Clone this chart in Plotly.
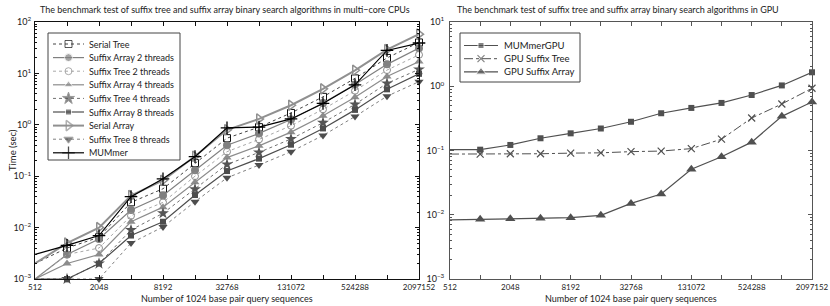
import math
import plotly.graph_objects as go

# ---------------- data ----------------
sizes = [512, 1024, 2048, 4096, 8192, 16384, 32768, 65536, 131072,
         262144, 524288, 1048576, 2097152]
x_tick_labels = ["512", "", "2048", "", "8192", "", "32768", "", "131072",
                 "", "524288", "", "2097152"]

serial_tree = [0.002, 0.004, 0.0065, 0.031, 0.057, 0.18, 0.55, 0.90, 1.70, 3.5, 8.0, 20.0, 40.0]
sa_2 = [0.001, 0.003, 0.006, 0.022, 0.042, 0.13, 0.40, 0.68, 1.27, 2.65, 6.1, 15.0, 31.0]
st_2 = [0.001, 0.003, 0.004, 0.017, 0.031, 0.10, 0.30, 0.52, 0.96, 2.0, 4.6, 11.6, 23.0]
sa_4 = [0.001, 0.002, 0.003, 0.013, 0.025, 0.076, 0.23, 0.39, 0.72, 1.5, 3.45, 8.7, 17.0]
st_4 = [0.001, 0.001, 0.002, 0.009, 0.019, 0.056, 0.17, 0.29, 0.53, 1.1, 2.5, 6.4, 12.0]
sa_8 = [0.001, 0.001, 0.002, 0.007, 0.013, 0.043, 0.126, 0.22, 0.41, 0.85, 1.95, 4.9, 9.8]
serial_array = [0.002, 0.005, 0.010, 0.042, 0.083, 0.245, 0.80, 1.30, 2.40, 5.0, 11.5, 29.0, 58.0]
st_8 = [0.001, 0.001, 0.001, 0.005, 0.0103, 0.032, 0.093, 0.165, 0.30, 0.62, 1.45, 3.6, 6.9]
mummer = [0.003, 0.0045, 0.007, 0.040, 0.089, 0.24, 0.87, 0.90, 1.30, 2.6, 6.0, 28.0, 39.0]

mummer_gpu = [0.103, 0.103, 0.122, 0.155, 0.185, 0.22, 0.28, 0.38, 0.46, 0.55, 0.73, 1.03, 1.65]
gpu_suffix_tree = [0.088, 0.088, 0.089, 0.089, 0.091, 0.092, 0.096, 0.098, 0.107, 0.15, 0.32, 0.53, 0.93]
gpu_suffix_array = [0.0083, 0.0085, 0.0087, 0.0088, 0.009, 0.0098, 0.015, 0.021, 0.051, 0.08, 0.135, 0.34, 0.57]

left_title = "The benchmark test of suffix tree and suffix array binary search algorithms in multi\u2212core CPUs"
right_title = "The benchmark test of suffix tree and suffix array binary search algorithms in GPU"
x_title = "Number of 1024 base pair query sequences"
y_title = "Time (sec)"

# ---------------- geometry (page pixels; body margin removed in post_script) ----------------
W, H = 830, 306
FONT = "Lato, 'Open Sans', sans-serif"
TXT = "#222222"


def px_x(p):
    return p / W


def px_y(p):
    return 1 - p / H


left_edges = (35, 419)
right_edges = (450, 812)
top_px, bot_px = 22, 279

fig = go.Figure()

left_series = [
    ("Serial Tree", serial_tree, dict(color="#444444", width=1, dash="dot"),
     dict(symbol="square-open", size=7, color="#111111", line=dict(width=1))),
    ("Suffix Array 2 threads", sa_2, dict(color="#808080", width=1.2),
     dict(symbol="circle", size=8, color="#808080")),
    ("Suffix Tree 2 threads", st_2, dict(color="#a8a8a8", width=1, dash="dot"),
     dict(symbol="circle-open", size=7, color="#8a8a8a", line=dict(width=1))),
    ("Suffix Array 4 threads", sa_4, dict(color="#8c8c8c", width=1.2),
     dict(symbol="triangle-up", size=8, color="#8c8c8c")),
    ("Suffix Tree 4 threads", st_4, dict(color="#707070", width=1, dash="dot"),
     dict(symbol="star", size=9, color="#555555")),
    ("Suffix Array 8 threads", sa_8, dict(color="#4d4d4d", width=1.2),
     dict(symbol="square", size=6, color="#4d4d4d")),
    ("Serial Array", serial_array, dict(color="#909090", width=2),
     dict(symbol="triangle-right-open", size=9, color="#909090", line=dict(width=1.5))),
    ("Suffix Tree 8 threads", st_8, dict(color="#808080", width=1, dash="dot"),
     dict(symbol="triangle-down", size=8, color="#4d4d4d")),
    ("MUMmer", mummer, dict(color="#000000", width=1.2),
     dict(symbol="cross-thin-open", size=9, color="#000000", line=dict(width=1.3))),
]

right_series = [
    ("MUMmerGPU", mummer_gpu, dict(color="#505050", width=1.2),
     dict(symbol="square", size=6, color="#505050")),
    ("GPU Suffix Tree", gpu_suffix_tree, dict(color="#505050", width=1, dash="dashdot"),
     dict(symbol="x-thin-open", size=7, color="#505050", line=dict(width=1.2))),
    ("GPU Suffix Array", gpu_suffix_array, dict(color="#505050", width=1.2),
     dict(symbol="triangle-up", size=9, color="#505050")),
]

for name, ys, line, marker in left_series:
    fig.add_trace(go.Scatter(x=sizes, y=ys, name=name, mode="lines+markers",
                             line=line, marker=marker, xaxis="x", yaxis="y",
                             cliponaxis=False, showlegend=False))
for name, ys, line, marker in right_series:
    fig.add_trace(go.Scatter(x=sizes, y=ys, name=name, mode="lines+markers",
                             line=line, marker=marker, xaxis="x2", yaxis="y2",
                             cliponaxis=False, showlegend=False))

# ---------------- compact legends (MATLAB-style row spacing) ----------------
annotations = []
shapes = []


def build_legend(series, box, row_h, first_row, sample, text_x, font_size, xa, ya):
    x0, y0, x1, y1 = box
    shapes.append(dict(type="rect", xref="paper", yref="paper",
                       x0=px_x(x0), x1=px_x(x1), y0=px_y(y1), y1=px_y(y0),
                       line=dict(color="#444444", width=1), fillcolor="rgba(0,0,0,0)",
                       layer="above"))
    for i, (name, _ys, line, marker) in enumerate(series):
        row = first_row + i * row_h
        m = dict(marker)
        m["size"] = [0, marker["size"], 0]
        fig.add_trace(go.Scatter(x=[sample[0], (sample[0] + sample[1]) / 2, sample[1]],
                                 y=[row] * 3, mode="lines+markers", line=line, marker=m,
                                 xaxis=xa, yaxis=ya, showlegend=False, hoverinfo="skip",
                                 cliponaxis=False))
        annotations.append(dict(text=name, x=text_x, y=row, xref=xa, yref=ya,
                                xanchor="left", yanchor="middle", showarrow=False,
                                font=dict(size=font_size, family=FONT, color=TXT)))
    return dict(domain=[px_x(x0), px_x(x1)], range=[0, x1 - x0], visible=False,
                fixedrange=True), \
        dict(domain=[px_y(y1), px_y(y0)], range=[y1 - y0, 0], visible=False,
             fixedrange=True)


lx3, ly3 = build_legend(left_series, (48, 33, 180, 160), 13.6, 11, (5, 36), 39, 9, "x3", "y3")
lx4, ly4 = build_legend(right_series, (460, 33, 580, 82), 13.2, 12.5, (4, 38), 42, 9.5, "x4", "y4")


def sup(n):
    s = str(n).replace("-", "\u2212")
    return f"10<sup>{s}</sup>"


def minor_vals(lo, hi):
    vals = []
    for e in range(lo, hi):
        for m in range(2, 10):
            vals.append(m * 10 ** e)
    return vals


xaxis_common = dict(
    type="log", range=[math.log10(sizes[0]), math.log10(sizes[-1])],
    tickmode="array", tickvals=sizes[::2], ticktext=x_tick_labels[::2],
    ticks="inside", ticklen=4, mirror="allticks", showline=True,
    linewidth=1, showgrid=False, zeroline=False,
    tickfont=dict(size=8, family=FONT, color=TXT),
    minor=dict(tickmode="array", tickvals=sizes[1::2], ticks="inside", ticklen=4,
               showgrid=False),
    automargin=False, fixedrange=True, ticklabeloverflow="allow",
)


def yaxis_def(lo, hi, color, standoff):
    return dict(type="log", range=[lo, hi], tickmode="array",
                tickvals=[10 ** e for e in range(lo, hi + 1)],
                ticktext=[sup(e) for e in range(lo, hi + 1)],
                ticks="inside", ticklen=4, mirror="allticks", showline=True,
                linecolor=color, tickcolor=color, linewidth=1, showgrid=False,
                tickfont=dict(size=9, family=FONT, color=TXT),
                minor=dict(tickmode="array", tickvals=minor_vals(lo, hi), ticks="inside",
                           ticklen=2, showgrid=False),
                automargin=False, fixedrange=True, ticklabelstandoff=standoff)


ydef1 = yaxis_def(-3, 2, "#111111", 1)
ydef1.update(domain=[px_y(bot_px), px_y(top_px)], anchor="x")
ydef2 = yaxis_def(-3, 1, "#555555", 3)
ydef2.update(domain=[px_y(bot_px), px_y(top_px)], anchor="x2")

annotations += [
    dict(text=left_title, x=px_x(225), y=px_y(10), xref="paper", yref="paper",
         xanchor="center", yanchor="middle", showarrow=False,
         font=dict(size=9, family=FONT, color=TXT)),
    dict(text=right_title, x=px_x(618), y=px_y(10), xref="paper", yref="paper",
         xanchor="center", yanchor="middle", showarrow=False,
         font=dict(size=9, family=FONT, color=TXT)),
    dict(text=x_title, x=px_x(sum(left_edges) / 2), y=px_y(298), xref="paper", yref="paper",
         xanchor="center", yanchor="middle", showarrow=False,
         font=dict(size=9, family=FONT, color=TXT)),
    dict(text=x_title, x=px_x(sum(right_edges) / 2), y=px_y(298), xref="paper", yref="paper",
         xanchor="center", yanchor="middle", showarrow=False,
         font=dict(size=9, family=FONT, color=TXT)),
    dict(text=y_title, x=px_x(12), y=px_y(150), xref="paper", yref="paper",
         xanchor="center", yanchor="middle", showarrow=False, textangle=-90,
         font=dict(size=9.5, family=FONT, color=TXT)),
]

fig.update_layout(
    width=W, height=H,
    margin=dict(l=0, r=0, t=0, b=0),
    paper_bgcolor="white", plot_bgcolor="rgba(0,0,0,0)",
    showlegend=False,
    xaxis=dict(domain=[px_x(left_edges[0]), px_x(left_edges[1])], anchor="y",
               linecolor="#111111", tickcolor="#111111", **xaxis_common),
    yaxis=ydef1,
    xaxis2=dict(domain=[px_x(right_edges[0]), px_x(right_edges[1])], anchor="y2",
                linecolor="#555555", tickcolor="#555555", **xaxis_common),
    yaxis2=ydef2,
    xaxis3=dict(anchor="y3", **lx3),
    yaxis3=dict(anchor="x3", **ly3),
    xaxis4=dict(anchor="y4", **lx4),
    yaxis4=dict(anchor="x4", **ly4),
    annotations=annotations,
    shapes=shapes,
)

fig.write_html("out.html",
               config={"displayModeBar": False, "staticPlot": True},
               post_script="document.body.style.margin='0';document.body.style.overflow='hidden';")
